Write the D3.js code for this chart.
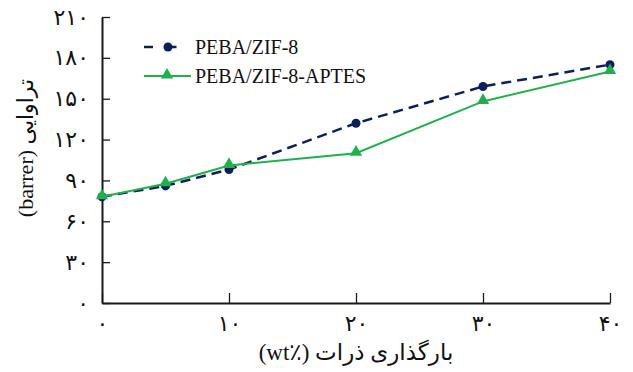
<!DOCTYPE html>
<html>
<head>
<meta charset="utf-8">
<script src="https://d3js.org/d3.v7.min.js"></script>
<style>
body { margin: 0; background: #fff; }
svg { display: block; }
</style>
</head>
<body>
<div id="root"></div>
<script>
// loading of particles (wt%)
let loading = [0, 5, 10, 20, 30, 40];
// permeability (barrer)
let zif8 = [78, 86, 98, 132, 159, 175];
let zif8_aptes = [78, 87.5, 101, 110, 148, 170];
let series_names = ['PEBA/ZIF-8', 'PEBA/ZIF-8-APTES'];

let x_ticks = [0, 10, 20, 30, 40];
let y_ticks = [0, 30, 60, 90, 120, 150, 180, 210];

let x_title = 'بارگذاری ذرات (٪wt)';
let y_title = 'تراوایی (barrer)';

let fa_digits = '۰۱۲۳۴۵۶۷۸۹';
let to_fa = n => String(n).replace(/\d/g, d => fa_digits[+d]);

let width = 633, height = 372;
let navy = '#0c1f5c';
let green = '#1eb24b';
let font = '"Liberation Serif", "DejaVu Sans", serif';

let svg = d3.select('#root').append('svg')
    .attr('width', width)
    .attr('height', height);

let x = d3.scaleLinear().domain([0, 40]).range([102, 610]);
let y = d3.scaleLinear().domain([0, 210]).range([303, 17]);

let style_axis = g => {
    g.select('.domain').attr('stroke', '#1a1a1a').attr('stroke-width', 2);
    g.selectAll('.tick line').attr('stroke', '#1a1a1a').attr('stroke-width', 1.3);
    g.selectAll('.tick text')
        .attr('font-family', '"DejaVu Sans", sans-serif')
        .attr('font-size', 22)
        .attr('fill', '#111');
};

svg.append('g')
    .attr('transform', `translate(0, ${y(0)})`)
    .call(d3.axisBottom(x).tickValues(x_ticks).tickFormat(to_fa)
        .tickSizeInner(-10).tickSizeOuter(0).tickPadding(12))
    .call(style_axis);

svg.append('g')
    .attr('transform', `translate(${x(0)}, 0)`)
    .call(d3.axisLeft(y).tickValues(y_ticks).tickFormat(to_fa)
        .tickSizeInner(-8).tickSizeOuter(0).tickPadding(13))
    .call(style_axis);

// axis titles
svg.append('text')
    .attr('x', 356)
    .attr('y', 360)
    .attr('text-anchor', 'middle')
    .attr('direction', 'rtl')
    .attr('font-family', font)
    .attr('font-size', 23)
    .attr('fill', '#111')
    .text(x_title);

svg.append('text')
    .attr('transform', 'translate(33, 148) rotate(-90)')
    .attr('text-anchor', 'middle')
    .attr('direction', 'rtl')
    .attr('font-family', font)
    .attr('font-size', 22)
    .attr('fill', '#111')
    .text(y_title);

let line = d3.line().x((d, i) => x(loading[i])).y(d => y(d));
let tri = d3.symbol().type(d3.symbolTriangle).size(65);

// PEBA/ZIF-8
svg.append('path')
    .datum(zif8)
    .attr('fill', 'none')
    .attr('stroke', navy)
    .attr('stroke-width', 2.5)
    .attr('stroke-dasharray', '10,6')
    .attr('d', line);

svg.append('g')
    .selectAll('circle')
    .data(zif8)
    .join('circle')
    .attr('cx', (d, i) => x(loading[i]))
    .attr('cy', d => y(d))
    .attr('r', 4.5)
    .attr('fill', navy);

// PEBA/ZIF-8-APTES
svg.append('path')
    .datum(zif8_aptes)
    .attr('fill', 'none')
    .attr('stroke', green)
    .attr('stroke-width', 2)
    .attr('d', line);

svg.append('g')
    .selectAll('path')
    .data(zif8_aptes)
    .join('path')
    .attr('transform', (d, i) => `translate(${x(loading[i])}, ${y(d) - 1})`)
    .attr('d', tri)
    .attr('fill', green);

// legend
let legend = svg.append('g').attr('transform', 'translate(144, 47)');
legend.append('line')
    .attr('x1', 0).attr('x2', 47).attr('y1', 0).attr('y2', 0)
    .attr('stroke', navy).attr('stroke-width', 2.5)
    .attr('stroke-dasharray', '9,14.5,0,0');
legend.append('circle')
    .attr('cx', 24).attr('cy', 0).attr('r', 4.5).attr('fill', navy);
legend.append('line')
    .attr('x1', 0).attr('x2', 47).attr('y1', 29).attr('y2', 29)
    .attr('stroke', green).attr('stroke-width', 2);
legend.append('path')
    .attr('transform', 'translate(23, 28)')
    .attr('d', tri)
    .attr('fill', green);
legend.selectAll('text')
    .data(series_names)
    .join('text')
    .attr('x', 51)
    .attr('y', (d, i) => i * 29)
    .attr('dy', '0.35em')
    .attr('font-family', font)
    .attr('font-size', 20)
    .attr('fill', '#111')
    .text(d => d);
</script>
</body>
</html>
